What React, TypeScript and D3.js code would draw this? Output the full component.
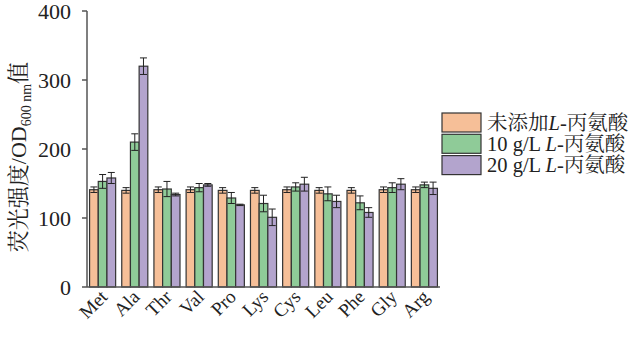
import React from "react";
import * as d3 from "d3";

const categories = ["Met", "Ala", "Thr", "Val", "Pro", "Lys", "Cys", "Leu", "Phe", "Gly", "Arg"];
const seriesNames = ["未添加", "10 g/L ", "20 g/L "];
const controlValues = [141, 140, 141, 141, 140, 140, 141, 140, 140, 141, 141];
const controlErrors = [4, 4, 4, 4, 4, 4, 4, 4, 4, 4, 4];
const low10Values = [153, 210, 142, 144, 129, 121, 145, 135, 122, 144, 148];
const low10Errors = [10, 12, 11, 6, 8, 12, 6, 10, 10, 7, 4];
const high20Values = [158, 320, 134, 148, 119, 101, 149, 124, 108, 149, 143];
const high20Errors = [8, 12, 2, 2, 1, 12, 10, 9, 7, 8, 9];
const yTicks = [0, 100, 200, 300, 400];

const colors = ["#F6BF98", "#8FCB98", "#B3A4CD"];
const serif = "'Liberation Serif', 'Times New Roman', serif";
const cjk = "'Liberation Serif', 'Noto Serif CJK SC', 'Noto Sans CJK SC', serif";

export default function App() {
  const W = 643, H = 337;
  const x0 = 87, x1 = 440, yTop = 11, yBot = 287;
  const y = d3.scaleLinear().domain([0, 400]).range([yBot, yTop]);
  const x = d3.scaleBand().domain(categories).range([x0, x1]).paddingInner(0.19).paddingOuter(0.08);
  const xi = d3.scaleBand().domain(["a", "b", "c"]).range([0, x.bandwidth()]);
  const series = [
    { v: controlValues, e: controlErrors },
    { v: low10Values, e: low10Errors },
    { v: high20Values, e: high20Errors },
  ];
  const keys = ["a", "b", "c"];
  const bw = xi.bandwidth();
  const cap = 3.5;

  return (
    <svg width={W} height={H} style={{ position: "absolute", left: 0, top: 0, background: "#fff" }}>
      {categories.map((c, ci) => (
        <g key={c}>
          {series.map((s, si) => {
            const bx = (x(c) as number) + (xi(keys[si]) as number);
            const top = y(s.v[ci]);
            const cx = bx + bw / 2;
            const eTop = y(s.v[ci] + s.e[ci]);
            const eBot = y(s.v[ci] - s.e[ci]);
            return (
              <g key={si}>
                <rect x={bx} y={top} width={bw} height={yBot - top} fill={colors[si]} stroke="#333" strokeWidth={1.2} />
                <line x1={cx} x2={cx} y1={eTop} y2={eBot} stroke="#222" strokeWidth={1} />
                <line x1={cx - cap} x2={cx + cap} y1={eTop} y2={eTop} stroke="#222" strokeWidth={1} />
                <line x1={cx - cap} x2={cx + cap} y1={eBot} y2={eBot} stroke="#222" strokeWidth={1} />
              </g>
            );
          })}
        </g>
      ))}
      <line x1={x0} x2={x0} y1={yTop} y2={yBot} stroke="#555" strokeWidth={1.5} />
      <line x1={x0} x2={x1} y1={yBot} y2={yBot} stroke="#555" strokeWidth={1.5} />
      {yTicks.map((t) => (
        <g key={t}>
          <line x1={x0 - 5} x2={x0} y1={y(t)} y2={y(t)} stroke="#555" strokeWidth={1.5} />
          <text x={x0 - 16} y={y(t)} dy="0.35em" textAnchor="end" fontFamily={serif} fontSize={22} fill="#222">
            {t}
          </text>
        </g>
      ))}
      {categories.map((c) => {
        const cx = (x(c) as number) + x.bandwidth() / 2;
        const tx = cx + 6;
        const ty = yBot + 11;
        return (
          <text
            key={c}
            x={0}
            y={0}
            style={{ transform: `translate(${tx}px, ${ty}px) rotate(-45deg)` }}
            textAnchor="end"
            fontFamily={serif}
            fontSize={19}
            fill="#222"
          >
            {c}
          </text>
        );
      })}
      <text
        transform={`translate(26,${(yTop + yBot) / 2 + 8}) rotate(-90)`}
        textAnchor="middle"
        fontFamily={cjk}
        fontSize={22}
        fill="#222"
      >
        荧光强度/OD
        <tspan fontSize={14} dy={5}>600 nm</tspan>
        <tspan dy={-5}>值</tspan>
      </text>
      {seriesNames.map((n, i) => {
        const ly = 113 + i * 21.3;
        return (
          <g key={i}>
            <rect x={442} y={ly} width={39} height={19} fill={colors[i]} stroke="#333" strokeWidth={1.2} />
            <text x={487} y={ly + 16.5} fontFamily={cjk} fontSize={20.5} fill="#222">
              {n}
              <tspan fontStyle="italic">L</tspan>-丙氨酸
            </text>
          </g>
        );
      })}
    </svg>
  );
}
